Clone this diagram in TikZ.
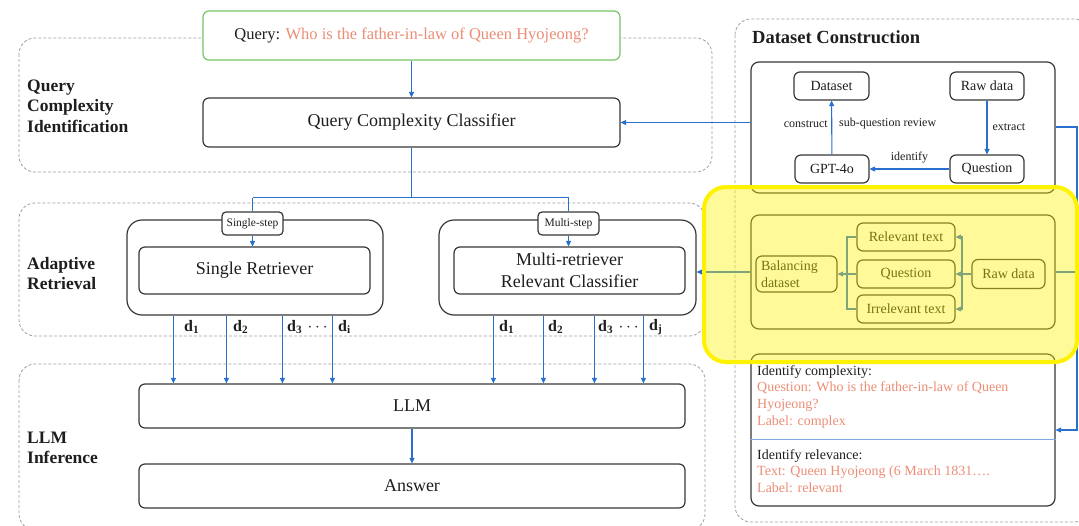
\documentclass[tikz,border=0pt]{standalone}
\usepackage{fontspec}
\setmainfont{Liberation Serif}
\usetikzlibrary{arrows.meta,calc}

\definecolor{flow}{RGB}{40,112,204}
\definecolor{salmon}{RGB}{236,142,118}
\definecolor{qgreen}{RGB}{120,196,100}
\definecolor{edge}{RGB}{55,55,55}
\definecolor{ink}{RGB}{30,30,30}

\begin{document}
\begin{tikzpicture}[x=1pt,y=-1pt,
  sz/.style 2 args={minimum width=#1pt, minimum height=#2pt},
  box/.style={draw=edge, line width=1.2pt, rounded corners=6pt, fill=white,
    text=ink, inner sep=0pt, align=center},
  bigfont/.style={font=\fontsize{18}{22.5}\selectfont},
  smallfont/.style={font=\fontsize{14}{16.5}\selectfont},
  outer/.style={box, rounded corners=15pt},
  tagbox/.style={box, rounded corners=4pt, font=\fontsize{11.5}{13}\selectfont},
  region/.style={draw=gray!75, line width=0.8pt, dash pattern=on 3pt off 2pt,
    rounded corners=16pt},
  arr/.style={draw=flow, line width=1.1pt, -{Triangle[length=5.5pt,width=5pt]}},
  ln/.style={draw=flow, line width=1.1pt},
  stage/.style={font=\fontsize{17.5}{20.5}\selectfont\bfseries, align=left,
    anchor=west, inner sep=0pt, text=ink},
  dlab/.style={font=\fontsize{16}{18}\selectfont\bfseries, anchor=west,
    inner sep=0pt, text=ink},
  elab/.style={font=\fontsize{12}{14}\selectfont, inner sep=0pt, text=ink},
]
\useasboundingbox (0,0) rectangle (1079,525);

% ---- dashed stage regions ----
\draw[region] (19,38) rectangle (712,172);
\draw[region] (19,203) rectangle (705,336);
\draw[region] (19,364) rectangle (705,530);
\draw[region] (735,19) rectangle (1090,522);

% ---- stage titles ----
\node[stage] (t1) at (27,106) {Query\\Complexity\\Identification};
\node[stage] (t2) at (27,273.5) {Adaptive\\Retrieval};
\node[stage] (t3) at (27,448) {LLM\\Inference};
\node[stage, font=\fontsize{18.5}{21}\selectfont\bfseries] (t4) at (752,37) {Dataset Construction};

% ---- main pipeline ----
\node[box, draw=qgreen, sz={417}{49}, font=\fontsize{16.5}{19}\selectfont] (query) at (411.5,35.5)
  {Query: \textcolor{salmon}{Who is the father-in-law of Queen Hyojeong?}};
\node[box, sz={417}{49}, bigfont] (clf) at (411.5,122.5) {Query Complexity Classifier};

\node[outer, sz={256}{95}] (sOuter) at (255,267.5) {};
\node[outer, sz={257}{95}] (mOuter) at (567.5,267.5) {};
\node[tagbox, sz={61}{23}] (sTag) at (252.5,223.5) {Single-step};
\node[tagbox, sz={61}{23}] (mTag) at (568.5,223.5) {Multi-step};
\node[box, sz={231}{47}, bigfont] (sRet) at (254.5,270.5) {Single Retriever};
\node[box, sz={231}{47}, bigfont] (mRet) at (569.5,270.5) {Multi-retriever\\Relevant Classifier};

\node[box, sz={546}{44}, bigfont] (llm) at (412,406) {LLM};
\node[box, sz={546}{44}, bigfont] (ans) at (412,486) {Answer};

% ---- main connectors ----
\draw[arr] (query) -- (clf);
\coordinate (split) at ($(clf.south)+(0,50)$);
\draw[ln] (clf.south) -- (split);
\draw[ln] (split -| sTag.north) -- (split -| mTag.north);
\draw[ln] (split -| sTag.north) -- (sTag.north);
\draw[ln] (split -| mTag.north) -- (mTag.north);
\draw[arr] (sTag.south) -- (sTag.south |- sRet.north);
\draw[arr] (mTag.south) -- (mTag.south |- mRet.north);

\foreach \dx in {47,100,156,206}
  \draw[arr] (sOuter.south west) ++(\dx,0) coordinate (dtop) -- (dtop |- llm.north);
\foreach \dx in {55,105,156,205}
  \draw[arr] (mOuter.south west) ++(\dx,0) coordinate (dtop) -- (dtop |- llm.north);

\node[dlab] (sd1) at (184,327) {d\textsubscript{1}};
\node[dlab] (sd2) at (233,327) {d\textsubscript{2}};
\node[dlab] (sd3) at (287,327) {d\textsubscript{3}\,\,$\cdots$};
\node[dlab] (sdi) at (338,327) {d\textsubscript{i}};
\node[dlab] (md1) at (499,327) {d\textsubscript{1}};
\node[dlab] (md2) at (548,327) {d\textsubscript{2}};
\node[dlab] (md3) at (598,327) {d\textsubscript{3}\,\,$\cdots$};
\node[dlab] (mdj) at (649,327) {d\textsubscript{j}};

\draw[arr] (llm) -- (ans);

% ---- dataset construction: complexity data ----
\node[box, sz={304}{131}, rounded corners=8pt] (dcTop) at (903,127.5) {};
\node[box, sz={75}{28}, smallfont] (dataset) at (831.5,86) {Dataset};
\node[box, sz={74}{28}, smallfont] (raw1) at (987,86) {Raw data};
\node[box, sz={74}{28}, smallfont] (gpt) at (832,169) {GPT-4o};
\node[box, sz={74}{28}, smallfont] (quest1) at (987,169) {Question};

\draw[arr] (raw1) -- (quest1) node[elab, midway, anchor=west, xshift=5pt] (lx) {extract};
\draw[arr] (quest1) -- (gpt) node[elab, midway, above=5pt] (li) {identify};
\draw[arr] (gpt) -- (dataset);
\node[elab, anchor=east] (lc) at (828,124) {construct};
\node[elab, anchor=west] (lr) at (839,124) {sub-question review};

% ---- dataset construction: relevance data ----
\node[box, sz={304}{114}, rounded corners=8pt] (dcMid) at (903,272) {};
\node[box, sz={81}{36}, smallfont, align=left, text width=71pt] (bal) at (796.5,274) {Balancing\\dataset};
\node[box, sz={98}{28}, smallfont] (rel) at (906,237) {Relevant text};
\node[box, sz={98}{28}, smallfont] (quest2) at (906,274) {Question};
\node[box, sz={98}{28}, smallfont] (irr) at (906,309) {Irrelevant text};
\node[box, sz={73}{29}, smallfont] (raw2) at (1008.5,274) {Raw data};

\coordinate (fanR) at (962,274);
\coordinate (fanL) at (847,274);
\draw[ln] (raw2.west) -- (fanR);
\draw[arr] (fanR) -- (quest2.east);
\draw[arr] (fanR) |- (rel.east);
\draw[arr] (fanR) |- (irr.east);
\draw[ln] (rel.west) -| (fanL) |- (irr.west);
\draw[arr] (quest2.west) -- (bal.east);

% ---- dataset construction: examples ----
\node[box, sz={304}{152}, rounded corners=8pt] (dcBot) at (903,430) {};
\draw[draw=flow!60, line width=0.8pt] (dcBot.west |- 0,439) coordinate (divL) -- (divL -| dcBot.east);
\node[anchor=north west, inner sep=0pt, align=left, text=ink,
  font=\fontsize{14}{16.7}\selectfont] (ex1) at (757,365)
  {Identify complexity:\\
   \textcolor{salmon}{Question: Who is the father-in-law of Queen}\\
   \textcolor{salmon}{Hyojeong?}\\
   \textcolor{salmon}{Label: complex}};
\node[anchor=north west, inner sep=0pt, align=left, text=ink,
  font=\fontsize{14}{16.7}\selectfont] (ex2) at (757,449)
  {Identify relevance:\\
   \textcolor{salmon}{Text: Queen Hyojeong (6 March 1831….}\\
   \textcolor{salmon}{Label: relevant}};

% ---- feeds from dataset construction ----
\draw[arr] (dcTop.west |- clf.east) -- (clf.east);
\draw[arr] (dcMid.west) -- (dcMid.west -| mOuter.east);
\coordinate (rail) at (1077,127);
\draw[arr] (dcTop.east |- rail) -- (rail) |- (dcBot.east);
\draw[ln] (dcMid.east) -- (dcMid.east -| rail);

% ---- highlight ----
\draw[draw=yellow, line width=4pt, fill=yellow, fill opacity=0.4,
  rounded corners=22pt] (704,187) rectangle (1077,362);
\end{tikzpicture}
\end{document}
